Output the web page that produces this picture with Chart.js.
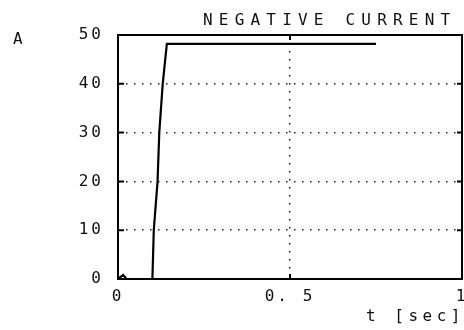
<!DOCTYPE html>
<html>
<head>
<meta charset="utf-8">
<script src="https://cdn.jsdelivr.net/npm/chart.js@4"></script>
<style>
  html, body { margin: 0; padding: 0; background: #fff; }
  #wrap { width: 464px; height: 330px; }
</style>
</head>
<body>
<div id="wrap"><canvas id="myChart" width="464" height="330"></canvas></div>
<script>
// values
var timeValues = [0, 0.015, 0.025, 0.1, 0.104, 0.115, 0.12, 0.13, 0.142, 0.75];
var currentValues = [0, 0.8, 0, 0, 10, 20, 30, 40, 48.2, 48.2];
var xTicks = [0, 0.5, 1];
var yTicks = [0, 10, 20, 30, 40, 50];
var xTickLabels = ['0', '0. 5', '1'];

var FONT = "'DejaVu Sans Mono', monospace";

var points = timeValues.map(function(t, i){ return { x: t, y: currentValues[i] } });

// frame, inward tick marks and the loose text labels
var decor = {
  id: 'decor',
  beforeDraw: function(chart){
    chart.ctx.letterSpacing = '3px';
  },
  afterDraw: function(chart){
    var ctx = chart.ctx;
    var a = chart.chartArea;
    var xs = chart.scales.x, ys = chart.scales.y;
    ctx.save();
    ctx.setLineDash([]);
    ctx.strokeStyle = '#000';
    ctx.lineWidth = 2;
    ctx.strokeRect(a.left, a.top, a.right - a.left, a.bottom - a.top);
    ctx.beginPath();
    yTicks.slice(1, -1).forEach(function(v){
      var p = ys.getPixelForValue(v);
      ctx.moveTo(a.left, p); ctx.lineTo(a.left + 6, p);
      ctx.moveTo(a.right, p); ctx.lineTo(a.right - 5, p);
    });
    var m = xs.getPixelForValue(0.5);
    ctx.moveTo(m, a.bottom); ctx.lineTo(m, a.bottom - 5);
    ctx.moveTo(m, a.top); ctx.lineTo(m, a.top + 5);
    ctx.stroke();

    ctx.fillStyle = '#111';
    ctx.font = '16px ' + FONT;
    ctx.textBaseline = 'middle';
    ctx.textAlign = 'left';
    ctx.letterSpacing = '6.2px';
    ctx.fillText('NEGATIVE CURRENT', 203, 21);
    ctx.letterSpacing = '0px';
    ctx.fillText('A', 13, 40);
    ctx.letterSpacing = '4.5px';
    ctx.fillText('t [sec]', 366, 317);
    ctx.restore();
  }
};

var ctx = document.getElementById('myChart').getContext('2d');
var chart = new Chart(ctx, {
  type: 'line',
  data: {
    datasets: [{
      data: points,
      borderColor: '#000',
      borderWidth: 2.2,
      pointRadius: 0,
      tension: 0,
      fill: false
    }]
  },
  plugins: [decor],
  options: {
    responsive: false,
    animation: false,
    layout: { padding: { left: 0, right: 2, top: 35, bottom: 0 } },
    plugins: { legend: { display: false }, tooltip: { enabled: false } },
    scales: {
      x: {
        type: 'linear',
        min: 0,
        max: 1,
        afterBuildTicks: function(scale){ scale.ticks = xTicks.map(function(v){ return { value: v } }) },
        afterFit: function(scale){ scale.height = 51; scale.paddingLeft = 0; scale.paddingRight = 0 },
        border: { display: false, dash: [1.5, 6.5] },
        grid: {
          drawTicks: false,
          color: function(c){ return c.tick && c.tick.value === 0.5 ? '#222' : 'rgba(0,0,0,0)' },
          lineWidth: 1.5
        },
        ticks: {
          padding: 8,
          color: '#111',
          font: { family: FONT, size: 16 },
          maxRotation: 0,
          autoSkip: false,
          callback: function(v){ return xTickLabels[xTicks.indexOf(v)] }
        }
      },
      y: {
        type: 'linear',
        min: 0,
        max: 50,
        afterBuildTicks: function(scale){ scale.ticks = yTicks.map(function(v){ return { value: v } }) },
        afterFit: function(scale){ scale.width = 118; scale.paddingTop = 0; scale.paddingBottom = 0 },
        border: { display: false, dash: [1.5, 6.5] },
        grid: {
          drawTicks: false,
          color: function(c){ var v = c.tick && c.tick.value; return v > 0 && v < 50 ? '#222' : 'rgba(0,0,0,0)' },
          lineWidth: 1.5
        },
        ticks: {
          padding: 14,
          color: '#111',
          font: { family: FONT, size: 16 },
          autoSkip: false
        }
      }
    }
  }
});
</script>
</body>
</html>
